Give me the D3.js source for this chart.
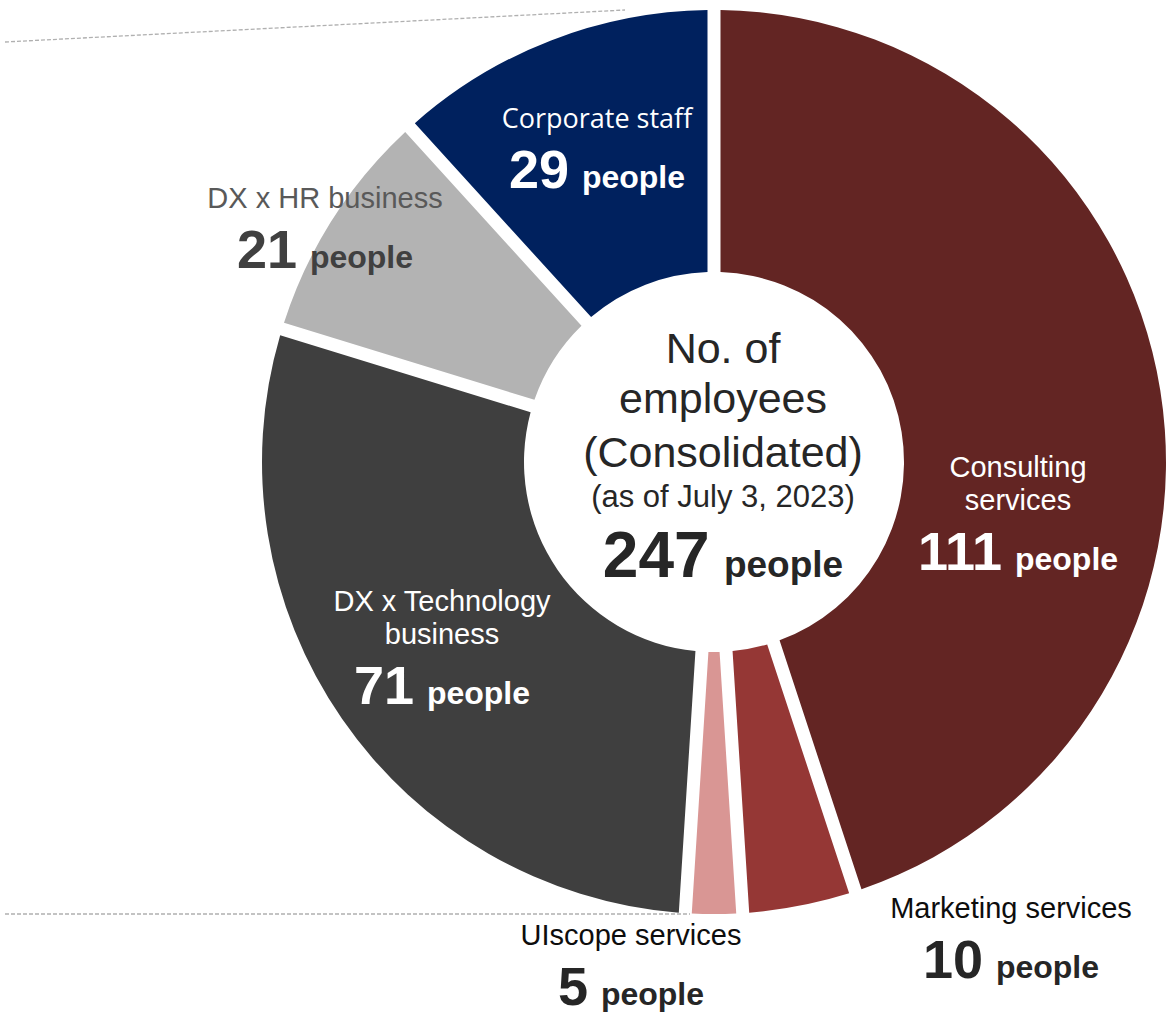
<!DOCTYPE html>
<html>
<head>
<meta charset="utf-8">
<script src="https://cdn.jsdelivr.net/npm/d3@7"></script>
<style>
  html, body { margin: 0; padding: 0; background: #ffffff; }
  svg { display: block; }
  text { font-family: "Liberation Sans", Arial, sans-serif; }
</style>
</head>
<body>
<div id="chart"></div>
<script>
// Headcount by business segment (consolidated)
const categories = [
  "Consulting services",
  "Marketing services",
  "UIscope services",
  "DX x Technology business",
  "DX x HR business",
  "Corporate staff"
];
const headcounts = [111, 10, 5, 71, 21, 29];
const titleLines = [
  ["Consulting", "services"],
  ["Marketing services"],
  ["UIscope services"],
  ["DX x Technology", "business"],
  ["DX x HR business"],
  ["Corporate staff"]
];
const unitLabel = "people";
const centerTitle = ["No. of", "employees", "(Consolidated)"];
const asOfLabel = "(as of July 3, 2023)";

// Presentation
const sliceColors = ["#632523", "#953735", "#D99694", "#3F3F3F", "#B3B3B3", "#00215E"];
const titleColors = ["#ffffff", "#0d0d0d", "#0d0d0d", "#ffffff", "#595959", "#ffffff"];
const numberColors = ["#ffffff", "#262626", "#262626", "#ffffff", "#404040", "#ffffff"];
// label anchor (first baseline, horizontal centre) relative to the donut centre
const labelOffsets = [
  [304, 15], [297, 456], [-83, 483], [-272, 149], [-389, -254], [-117, -334]
];

const W = 1168, H = 1019;
const cx = 714, cy = 462;
const outerR = 452, innerR = 190, gap = 13;

const svg = d3.select("#chart").append("svg")
  .attr("width", W).attr("height", H);

// faint dashed guide lines at the left
const guides = svg.append("g")
  .attr("stroke", "#B0B0B0").attr("stroke-width", 1.3)
  .attr("stroke-dasharray", "4,2").attr("fill", "none");
guides.append("line").attr("x1", 5).attr("y1", 42).attr("x2", 625).attr("y2", 10);
guides.append("line").attr("x1", 5).attr("y1", 914).attr("x2", 690).attr("y2", 914);

const pie = d3.pie().sort(null).value(d => d).startAngle(0).endAngle(2 * Math.PI);
const arcs = pie(headcounts);

const arc = d3.arc()
  .innerRadius(innerR)
  .outerRadius(outerR)
  .padRadius(outerR)
  .padAngle(gap / outerR);

const g = svg.append("g").attr("transform", `translate(${cx},${cy})`);

g.selectAll("path.slice")
  .data(arcs)
  .join("path")
  .attr("class", "slice")
  .attr("d", arc)
  .attr("fill", (d, i) => sliceColors[i]);

// segment labels
const labels = g.selectAll("g.label")
  .data(arcs)
  .join("g")
  .attr("class", "label")
  .attr("transform", (d, i) => `translate(${labelOffsets[i][0]},${labelOffsets[i][1]})`);

labels.each(function (d, i) {
  const sel = d3.select(this);
  const lines = titleLines[i];
  const isCorp = i === 5;
  lines.forEach((ln, k) => {
    sel.append("text")
      .attr("text-anchor", "middle")
      .attr("y", k * 33)
      .attr("fill", titleColors[i])
      .style("font-family", isCorp ? "'Open Sans', 'Noto Sans', sans-serif" : null)
      .style("font-size", isCorp ? "27px" : "29px")
      .text(ln);
  });
  const t = sel.append("text")
    .attr("text-anchor", "middle")
    .attr("y", (lines.length - 1) * 33 + 60)
    .attr("fill", numberColors[i])
    .style("font-weight", "bold");
  t.append("tspan").style("font-size", "54px").text(d.data);
  t.append("tspan").attr("dx", 4).style("font-size", "32px").text(" " + unitLabel);
});

// centre caption
const centre = g.append("g").attr("transform", "translate(9,0)").attr("fill", "#262626");
const titleBaselines = [-99, -49, 5];
centerTitle.forEach((ln, k) => {
  centre.append("text").attr("text-anchor", "middle")
    .attr("y", titleBaselines[k]).style("font-size", "43px").text(ln);
});
centre.append("text").attr("text-anchor", "middle")
  .attr("y", 45).style("font-size", "31px").text(asOfLabel);
const totalText = centre.append("text").attr("text-anchor", "middle")
  .attr("y", 115).style("font-weight", "bold");
totalText.append("tspan").style("font-size", "64px").text(d3.sum(headcounts));
totalText.append("tspan").attr("dx", 4).style("font-size", "37px").text(" " + unitLabel);
</script>
</body>
</html>
